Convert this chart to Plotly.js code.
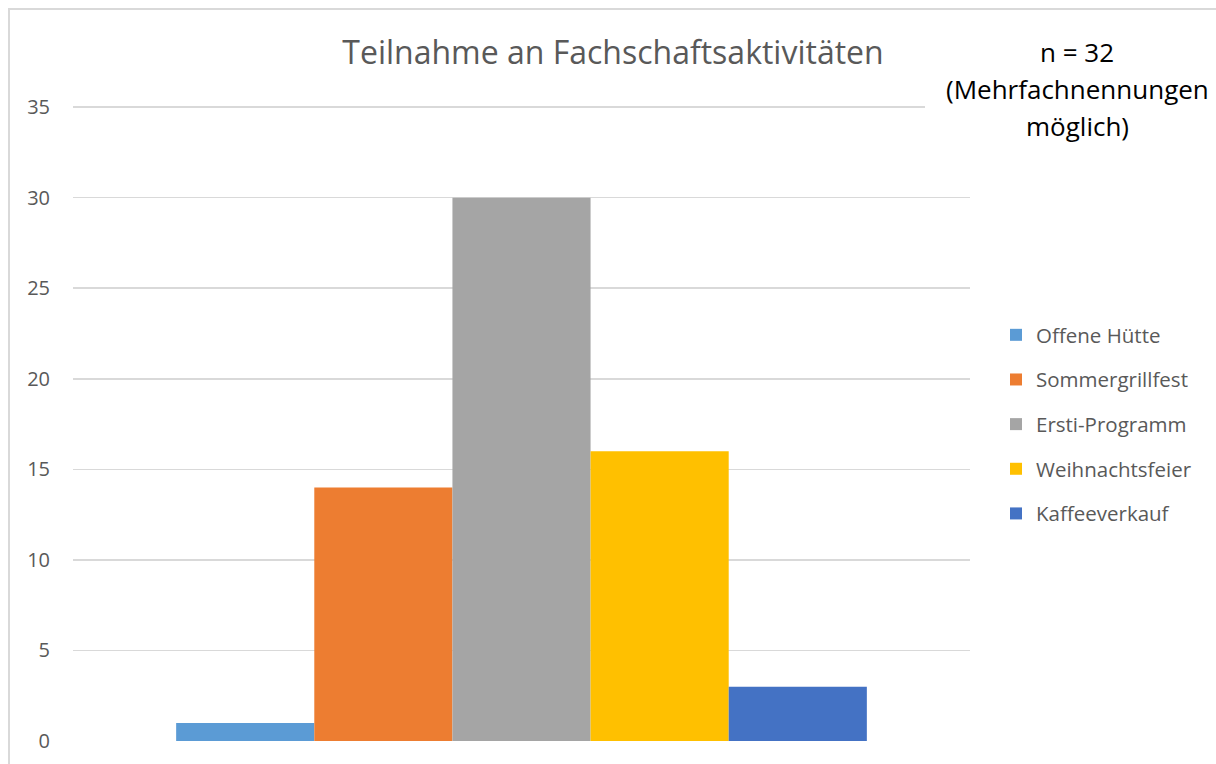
<!DOCTYPE html>
<html>
<head>
<meta charset="utf-8">
<script src="https://cdn.plot.ly/plotly-3.0.1.min.js"></script>
<style>
html,body{margin:0;padding:0;background:#fff;}
#wrap{position:relative;width:1216px;height:764px;overflow:hidden;}
#chart{position:absolute;left:0;top:0;width:1216px;height:764px;}
#frame{position:absolute;left:8px;top:8px;width:1300px;height:900px;border-left:2px solid #d9d9d9;border-top:2px solid #d9d9d9;pointer-events:none;}
</style>
</head>
<body>
<div id="wrap"><div id="chart"></div><div id="frame"></div></div>
<script>
const categories = ['Teilnahme'];
const seriesNames = ['Offene Hütte', 'Sommergrillfest', 'Ersti-Programm', 'Weihnachtsfeier', 'Kaffeeverkauf'];
const seriesValues = [1, 14, 30, 16, 3];
const seriesColors = ['#5B9BD5', '#ED7D31', '#A5A5A5', '#FFC000', '#4472C4'];
const yTicks = [0, 5, 10, 15, 20, 25, 30, 35];
const titleText = 'Teilnahme an Fachschaftsaktivitäten';
const noteLines = ['n = 32', '(Mehrfachnennungen', 'möglich)'];

const FONT = 'Open Sans, sans-serif';
const traces = seriesNames.map((name, i) => ({
  type: 'bar',
  name: name,
  x: categories,
  y: [seriesValues[i]],
  marker: {color: seriesColors[i], line: {width: 0}},
  legendgroup: 'g' + i,
  hoverinfo: 'name+y'
}));

const L = 73, R = 970, T = 106, B = 741;
const pw = R - L, ph = B - T;
const px = v => (v - L) / pw;
const py = v => (B - v) / ph;

const noteY = [52, 89, 126];
const annotations = noteLines.map((t, i) => ({
  text: t, xref: 'paper', yref: 'paper', x: px(1077), y: py(noteY[i]),
  xanchor: 'center', yanchor: 'middle', showarrow: false,
  font: {family: FONT, size: 26, color: '#000000'}
}));

const layout = {
  width: 1216, height: 764,
  margin: {l: L, r: 1216 - R, t: T, b: 764 - B, pad: 0},
  paper_bgcolor: '#ffffff', plot_bgcolor: '#ffffff',
  barmode: 'group', bargap: 0.23, bargroupgap: 0,
  title: {text: titleText, font: {family: FONT, size: 32, color: '#595959'},
          x: 613 / 1216, xref: 'container', xanchor: 'center', y: 1 - 53 / 764, yref: 'container', yanchor: 'middle'},
  xaxis: {showticklabels: false, showgrid: false, zeroline: false, showline: false, ticks: ''},
  yaxis: {range: [0, 35.06], tickvals: yTicks, ticktext: yTicks.map(String),
          showgrid: true, gridcolor: '#d9d9d9', gridwidth: 1.5, zeroline: false, showline: false,
          ticks: '', ticklabelstandoff: 22,
          tickfont: {family: FONT, size: 20, color: '#595959'}},
  showlegend: true,
  legend: {x: px(996), xanchor: 'left', y: py(424.5), yanchor: 'middle',
           traceorder: 'grouped', tracegroupgap: 15,
           font: {family: FONT, size: 20.5, color: '#595959'}, bgcolor: 'rgba(0,0,0,0)'},
  shapes: [{type: 'rect', xref: 'paper', yref: 'paper', x0: px(925), x1: px(975), y0: py(112), y1: py(102),
            fillcolor: '#ffffff', line: {width: 0}, layer: 'above'}],
  annotations: annotations
};

Plotly.newPlot('chart', traces, layout, {displayModeBar: false, staticPlot: true});
</script>
</body>
</html>
